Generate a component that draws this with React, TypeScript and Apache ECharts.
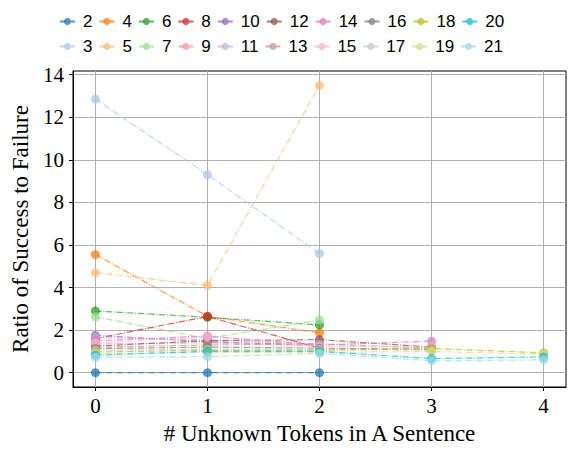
import React, { useEffect, useRef } from "react";
import * as echarts from "echarts";

// x positions: number of unknown tokens in a sentence
const unknownTokens = [0, 1, 2, 3, 4];
const xTicks = [0, 1, 2, 3, 4];
const yTicks = [0, 2, 4, 6, 8, 10, 12, 14];

// ratio of success to failure, per sentence length (series name)
const seriesNames = ["2", "3", "4", "5", "6", "7", "8", "9", "10", "11", "12", "13", "14", "15", "16", "17", "18", "19", "20", "21"];
const ratio2 = [0, 0, 0];
const ratio3 = [12.85, 9.3, 5.6];
const ratio4 = [5.55, 2.65, 1.87];
const ratio5 = [4.7, 4.1, 13.5];
const ratio6 = [2.9, 2.6, 2.24];
const ratio7 = [2.62, 1.6, 2.47];
const ratio8 = [1.6, 2.64, 1.15];
const ratio9 = [1.35, 1.4, 1.25];
const ratio10 = [1.75, 1.45, 1.3];
const ratio11 = [1.65, 1.55, 1.35];
const ratio12 = [1.25, 1.5, 1.55, 1.2];
const ratio13 = [1.2, 1.3, 1.35, 1.15];
const ratio14 = [1.5, 1.72, 1.3, 1.48];
const ratio15 = [1.4, 1.68, 1.25, 1.2];
const ratio16 = [1.13, 1.2, 1.15, 1.1];
const ratio17 = [1.05, 1.1, 1.1, 1.05];
const ratio18 = [0.97, 1.05, 1.05, 1.13, 0.93];
const ratio19 = [0.9, 0.95, 0.95, 1.0, 0.85];
const ratio20 = [0.82, 1.0, 1.0, 0.66, 0.74];
const ratio21 = [0.72, 0.75, 0.9, 0.56, 0.6];

const allRatios = [ratio2, ratio3, ratio4, ratio5, ratio6, ratio7, ratio8, ratio9, ratio10, ratio11, ratio12, ratio13, ratio14, ratio15, ratio16, ratio17, ratio18, ratio19, ratio20, ratio21];

const tab20 = [
  "#1f77b4", "#aec7e8", "#ff7f0e", "#ffbb78", "#2ca02c", "#98df8a", "#d62728", "#ff9896", "#9467bd", "#c5b0d5",
  "#8c564b", "#c49c94", "#e377c2", "#f7b6d2", "#7f7f7f", "#c7c7c7", "#bcbd22", "#dbdb8d", "#17becf", "#9edae5",
];

const serif = "Liberation Serif";

export default function App() {
  const ref = useRef<HTMLDivElement>(null);
  useEffect(() => {
    if (!ref.current) return;
    const chart = echarts.init(ref.current, null, { renderer: "svg" });
    const series = seriesNames.map((name, i) => ({
      name,
      type: "line",
      data: allRatios[i].map((v, j) => [unknownTokens[j], v]),
      symbol: "circle",
      symbolSize: 9,
      clip: false,
      itemStyle: { color: tab20[i], opacity: 0.75 },
      lineStyle: { color: tab20[i], width: 1.2, type: [6.4, 1.6, 1, 1.6], opacity: 0.75 },
      emphasis: { disabled: true },
    }));
    const makeLegend = (top: number, data: string[]) => ({
      left: 54,
      top,
      orient: "horizontal",
      itemWidth: 15,
      itemHeight: 9,
      itemGap: 6,
      textStyle: { fontSize: 17, color: "#000", padding: [0, 0, 0, 3] },
      selectedMode: false,
      data,
    });
    const tickText = { fontFamily: serif, fontSize: 21, color: "#000" };
    const nameText = { fontFamily: serif, fontSize: 23, color: "#000" };
    chart.setOption({
      animation: false,
      legend: [
        makeLegend(8, seriesNames.filter((_, i) => i % 2 === 0)),
        makeLegend(33, seriesNames.filter((_, i) => i % 2 === 1)),
      ],
      grid: { left: 73, right: 22, top: 71, bottom: 59, show: true, borderColor: "#000", borderWidth: 1 },
      xAxis: {
        type: "value",
        min: -0.2,
        max: 4.2,
        name: "# Unknown Tokens in A Sentence",
        nameLocation: "middle",
        nameGap: 35,
        nameTextStyle: { ...nameText },
        axisLine: { show: true, onZero: false, lineStyle: { color: "#000", width: 1 } },
        axisTick: { show: true, length: 4, lineStyle: { color: "#000" }, customValues: xTicks },
        axisLabel: { ...tickText, margin: 8, customValues: xTicks },
        splitLine: { show: true, lineStyle: { color: "#b0b0b0", width: 1 } },
      },
      yAxis: {
        type: "value",
        min: -0.675,
        max: 14.175,
        name: "Ratio of Success to Failure",
        nameLocation: "middle",
        nameGap: 40,
        nameTextStyle: { ...nameText },
        axisLine: { show: true, onZero: false, lineStyle: { color: "#000", width: 1 } },
        axisTick: { show: true, length: 4, lineStyle: { color: "#000" }, customValues: yTicks },
        axisLabel: { ...tickText, margin: 9, customValues: yTicks },
        splitLine: { show: true, lineStyle: { color: "#b0b0b0", width: 1 } },
      },
      series,
    });
    return () => chart.dispose();
  }, []);
  return <div ref={ref} style={{ width: 588, height: 450, position: "absolute", left: 0, top: 0 }} />;
}
